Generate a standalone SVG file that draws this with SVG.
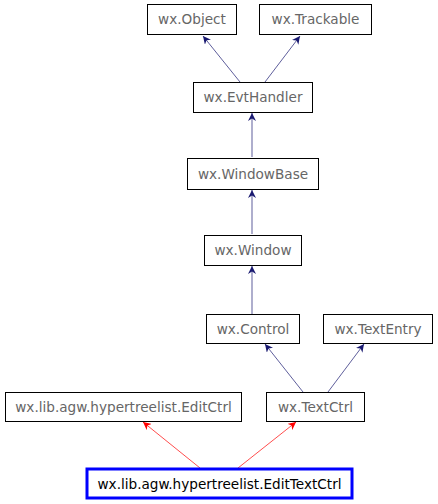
<svg xmlns="http://www.w3.org/2000/svg" width="438" height="504" viewBox="0 0 438 504">
<style>
.n rect{fill:#fff;stroke:#000;stroke-width:1}
.n text{font-family:"DejaVu Sans",sans-serif;font-size:13.6px;fill:#666;text-anchor:middle}
.b{stroke:#191970;stroke-width:0.7;fill:none}
.r{stroke:#ff0000;stroke-width:0.7;fill:none}
</style>
<defs>
<marker id="ab" viewBox="0 0 10 10" refX="10" refY="5" markerWidth="8" markerHeight="8" orient="auto" markerUnits="userSpaceOnUse"><path d="M0,0 L10,5 L0,10 L3,5 Z" fill="#191970"/></marker>
<marker id="ar" viewBox="0 0 10 10" refX="10" refY="5" markerWidth="8" markerHeight="8" orient="auto" markerUnits="userSpaceOnUse"><path d="M0,0 L10,5 L0,10 L3,5 Z" fill="#ff0000"/></marker>
</defs>
<rect width="438" height="504" fill="#fff"/>
<g id="connectors">
<line class="b" x1="240" y1="82" x2="203" y2="36" marker-end="url(#ab)"/>
<line class="b" x1="265" y1="82" x2="300" y2="36" marker-end="url(#ab)"/>
<line class="b" x1="252" y1="157" x2="252" y2="113" marker-end="url(#ab)"/>
<line class="b" x1="252" y1="234" x2="252" y2="190" marker-end="url(#ab)"/>
<line class="b" x1="252" y1="314" x2="252" y2="266" marker-end="url(#ab)"/>
<line class="b" x1="303" y1="392" x2="265" y2="344" marker-end="url(#ab)"/>
<line class="b" x1="328" y1="392" x2="364" y2="344" marker-end="url(#ab)"/>
<line class="r" x1="200" y1="468" x2="143" y2="422" marker-end="url(#ar)"/>
<line class="r" x1="238" y1="468" x2="296" y2="422" marker-end="url(#ar)"/>
</g>
<g id="wx.Object" class="n"><rect x="147.5" y="4.5" width="89" height="30"/><text x="192" y="24">wx.Object</text></g>
<g id="wx.Trackable" class="n"><rect x="259.5" y="4.5" width="112" height="30"/><text x="315.5" y="24">wx.Trackable</text></g>
<g id="wx.EvtHandler" class="n"><rect x="193.5" y="82.5" width="119" height="30"/><text x="253" y="102">wx.EvtHandler</text></g>
<g id="wx.WindowBase" class="n"><rect x="187.5" y="158.5" width="131" height="31"/><text x="253" y="179">wx.WindowBase</text></g>
<g id="wx.Window" class="n"><rect x="204.5" y="235.5" width="97" height="30"/><text x="253" y="255">wx.Window</text></g>
<g id="wx.Control" class="n"><rect x="206.5" y="314.5" width="93" height="29"/><text x="253" y="334">wx.Control</text></g>
<g id="wx.TextEntry" class="n"><rect x="323.5" y="314.5" width="109" height="29"/><text x="378" y="334">wx.TextEntry</text></g>
<g id="wx.lib.agw.hypertreelist.EditCtrl" class="n"><rect x="5.5" y="392.5" width="236" height="29"/><text x="123.5" y="412">wx.lib.agw.hypertreelist.EditCtrl</text></g>
<g id="wx.TextCtrl" class="n"><rect x="266.5" y="392.5" width="98" height="29"/><text x="315.5" y="412">wx.TextCtrl</text></g>
<g id="wx.lib.agw.hypertreelist.EditTextCtrl" class="n"><rect x="87" y="469" width="265" height="29" style="stroke:#0000ff;stroke-width:3"/><text x="219.5" y="489" style="fill:#000">wx.lib.agw.hypertreelist.EditTextCtrl</text></g>
</svg>
